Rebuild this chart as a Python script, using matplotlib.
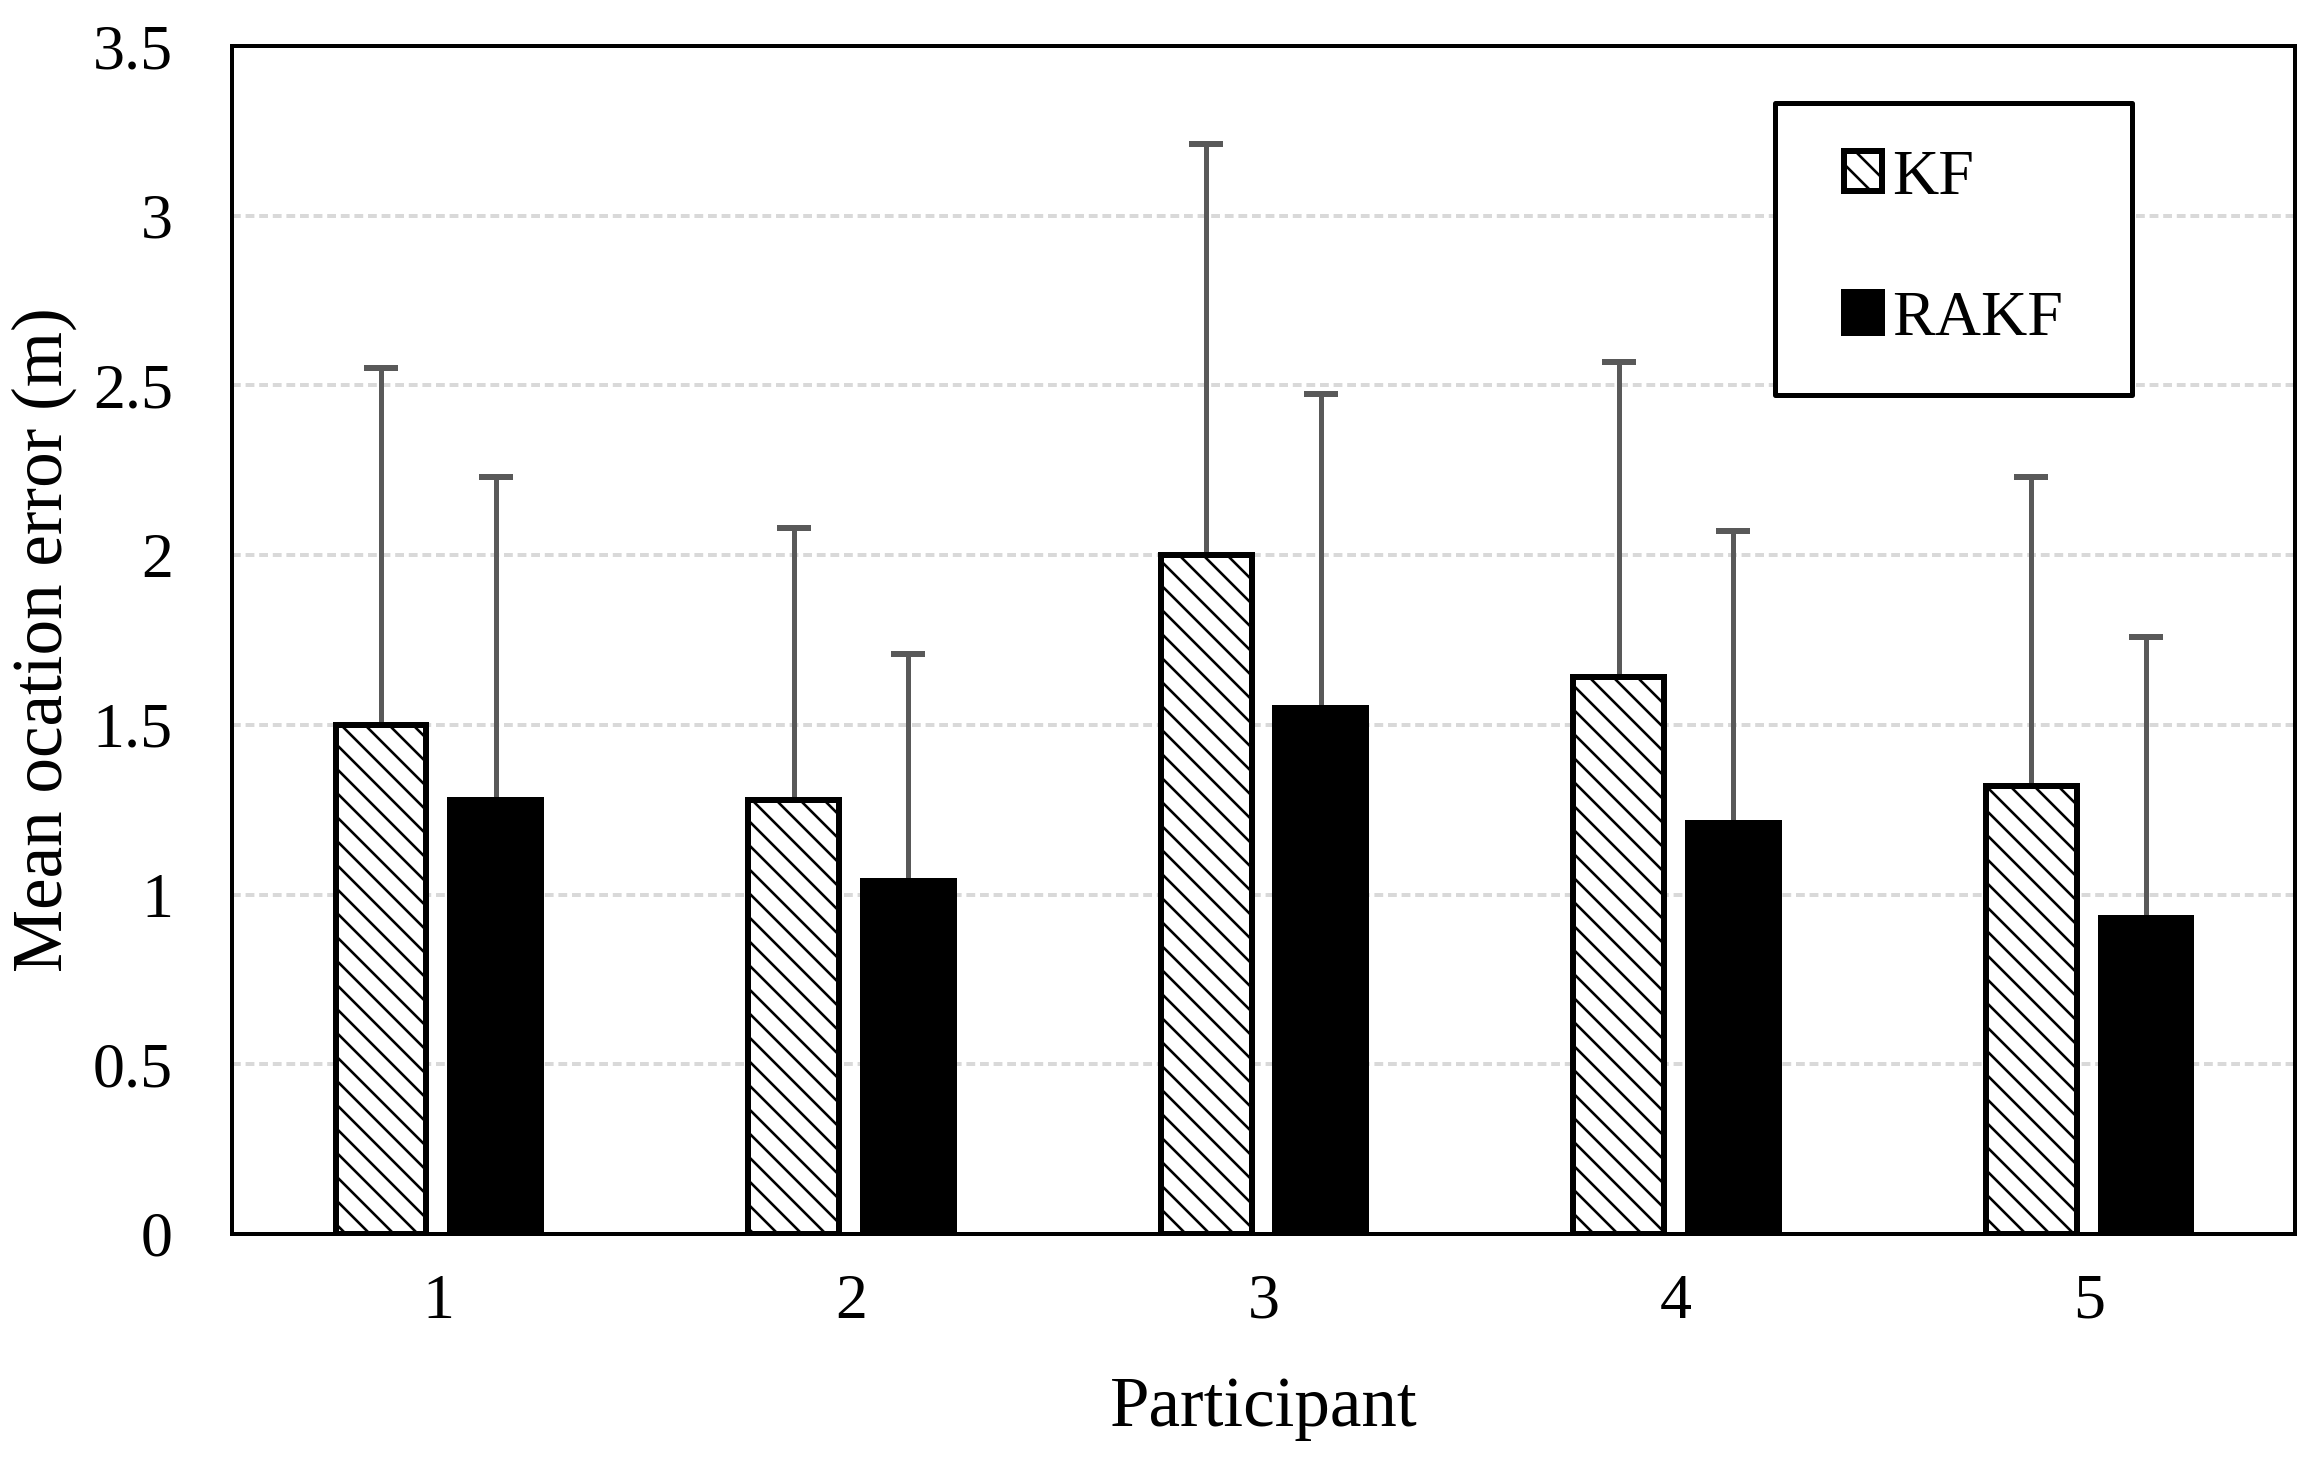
import numpy as np
import matplotlib
matplotlib.use("Agg")
import matplotlib.pyplot as plt
from matplotlib.patches import Rectangle
from matplotlib.ticker import FormatStrFormatter

participants = ["1", "2", "3", "4", "5"]
kfMean = [1.50, 1.28, 2.00, 1.64, 1.32]
kfErr = [1.05, 0.80, 1.21, 0.93, 0.91]
rakfMean = [1.28, 1.04, 1.55, 1.21, 0.93]
rakfErr = [0.95, 0.67, 0.925, 0.86, 0.83]
seriesNames = ["KF", "RAKF"]
yTicks = [0, 0.5, 1, 1.5, 2, 2.5, 3, 3.5]

plt.rcParams['font.family'] = ['Liberation Serif', 'DejaVu Serif']
plt.rcParams['hatch.linewidth'] = 1.3
plt.rcParams['hatch.color'] = 'black'

fig = plt.figure(figsize=(2320 / 144, 1465 / 144), dpi=144, facecolor='white')
ax = fig.add_axes([0.1, 0.1577, 0.8892, 0.8109])

x = np.arange(1, len(participants) + 1)
barW = 0.22
off = 0.139

kfBars = ax.bar(x - off, kfMean, barW, color='white', edgecolor='black',
                linewidth=3, hatch='\\\\', label=seriesNames[0], zorder=3)
rakfBars = ax.bar(x + off, rakfMean, barW, color='black', edgecolor='black',
                  linewidth=3, label=seriesNames[1], zorder=3)

# only the upper half of each error bar is shown
for pos, mean, err in [(x - off, kfMean, kfErr), (x + off, rakfMean, rakfErr)]:
    eb = ax.errorbar(pos, mean, yerr=[np.zeros(len(err)), err], fmt='none',
                     ecolor='#595959', elinewidth=2.5, capsize=8.5, capthick=3,
                     zorder=2)
    for cap in eb[1]:
        if np.allclose(cap.get_ydata(), mean):
            cap.set_visible(False)

ax.set_xlim(0.5, 5.5)
ax.set_ylim(0, 3.5)
ax.set_xticks(x)
ax.set_xticklabels(participants)
ax.set_yticks(yTicks)
ax.yaxis.set_major_formatter(FormatStrFormatter('%g'))
ax.tick_params(axis='both', length=0, labelsize=32)
ax.tick_params(axis='y', pad=29.5)
ax.tick_params(axis='x', pad=20)

ax.yaxis.grid(True, linestyle=(0, (2.2, 1.2)), linewidth=2, color='#d9d9d9', zorder=0)
ax.set_axisbelow(True)
for sp in ax.spines.values():
    sp.set_linewidth(2)
    sp.set_color('black')

ax.set_xlabel("Participant", fontsize=35.5, labelpad=22)
ax.set_ylabel("Mean ocation error (m)", fontsize=35.5, labelpad=8)

# legend box drawn separately (Excel style padding)
ax.add_patch(Rectangle((0.748, 0.706), 0.173, 0.246, transform=ax.transAxes,
                       facecolor='white', edgecolor='black', linewidth=2.5,
                       joinstyle='round', zorder=5))
leg = ax.legend(loc='center', bbox_to_anchor=(0.8345, 0.829), frameon=False,
                fontsize=32, handlelength=0.6, handleheight=0.6,
                handletextpad=0.15, labelspacing=1.3)
leg.set_zorder(6)

fig.savefig("out.png", dpi=144, facecolor='white')
